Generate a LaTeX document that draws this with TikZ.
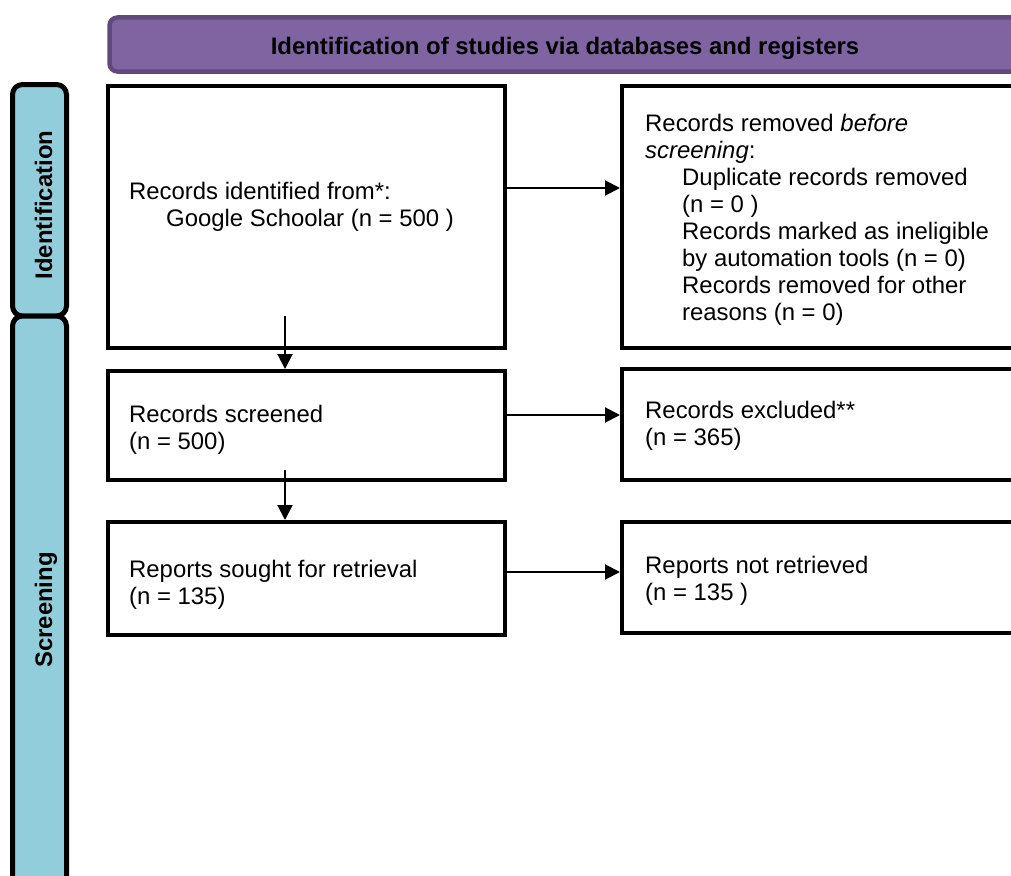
\documentclass[tikz,border=0pt]{standalone}
\usepackage{fontspec}
\setmainfont{Liberation Sans}
\usetikzlibrary{arrows.meta}
\definecolor{hdrfill}{HTML}{8064A2}
\definecolor{hdrline}{HTML}{5F4A7B}
\definecolor{sidefill}{HTML}{92CDDC}
\tikzset{
  box/.style={draw=black, line width=4pt, fill=white, inner sep=0pt},
  hdr/.style={draw=hdrline, fill=hdrfill, line width=4.5pt, rounded corners=8pt, inner sep=0pt},
  side/.style={draw=black, fill=sidefill, line width=5pt, rounded corners=10pt, inner sep=0pt},
  bodytxt/.style={font=\fontsize{23.9}{27}\selectfont, align=left, inner sep=0pt, anchor=north west},
  hdrtxt/.style={font=\bfseries\fontsize{23.9}{27}\selectfont, inner sep=0pt, anchor=base},
  sidetxt/.style={font=\bfseries\fontsize{23.9}{27}\selectfont, inner sep=0pt, anchor=base, rotate=90},
  arr/.style={line width=2pt, -{Triangle[length=15pt,width=15pt]}}
}
\begin{document}
\begin{tikzpicture}[x=1pt,y=-1pt]
\clip (0,0) rectangle (1011,875);
\fill[white] (0,0) rectangle (1011,875);
% header
\node[hdr, minimum width=911.5pt, minimum height=54pt] (hdr) at (565.25,44.5) {};
\node[hdrtxt] (hdrt) at (565,55) {Identification of studies via databases and registers};
% side bars
\node[side, minimum width=54pt, minimum height=231.5pt] (s1) at (39.5,200.25) {};
\node[side, minimum width=54pt, minimum height=594pt] (s2) at (39.5,613) {};
\node[sidetxt] (s1t) at (52,205) {Identification};
\node[sidetxt] (s2t) at (52,610) {Screening};
% boxes
\node[box, minimum width=396.5pt, minimum height=262pt] (b1) at (306.25,217) {};
\node[box, minimum width=418pt, minimum height=262pt] (r1) at (831,217) {};
\node[box, minimum width=396.5pt, minimum height=109pt] (b2) at (306.25,425.5) {};
\node[box, minimum width=418pt, minimum height=111pt] (r2) at (831,424.5) {};
\node[box, minimum width=396.5pt, minimum height=113pt] (b3) at (306.25,578.5) {};
\node[box, minimum width=418pt, minimum height=111pt] (r3) at (831,577.5) {};
% texts
\node[bodytxt] (b1t) at (129,180.1) {\strut Records identified from*:\\\hspace*{37pt}Google Schoolar (n = 500 )};
\node[bodytxt] (r1t) at (645,112.1) {\strut Records removed \textit{before}\\\textit{screening}:\\
\hspace*{37pt}Duplicate records removed\\
\hspace*{37pt}(n = 0 )\\
\hspace*{37pt}Records marked as ineligible\\
\hspace*{37pt}by automation tools (n = 0)\\
\hspace*{37pt}Records removed for other\\
\hspace*{37pt}reasons (n = 0)};
\node[bodytxt] (b2t) at (129,403.1) {\strut Records screened\\(n = 500)};
\node[bodytxt] (r2t) at (645,399.1) {\strut Records excluded**\\(n = 365)};
\node[bodytxt] (b3t) at (129,558.6) {\strut Reports sought for retrieval\\(n = 135)};
\node[bodytxt] (r3t) at (645,554.1) {\strut Reports not retrieved\\(n = 135 )};
% connectors
\coordinate (h1) at (0,188);
\coordinate (h2) at (0,415);
\coordinate (h3) at (0,572);
\coordinate (v1) at (285,316);
\coordinate (v2) at (285,470);
\draw[arr] (b1.east |- h1) -- (r1.west |- h1);
\draw[arr] (b2.east |- h2) -- (r2.west |- h2);
\draw[arr] (b3.east |- h3) -- (r3.west |- h3);
\draw[arr] (v1) -- (v1 |- b2.north);
\draw[arr] (v2) -- (v2 |- b3.north);
\end{tikzpicture}
\end{document}
